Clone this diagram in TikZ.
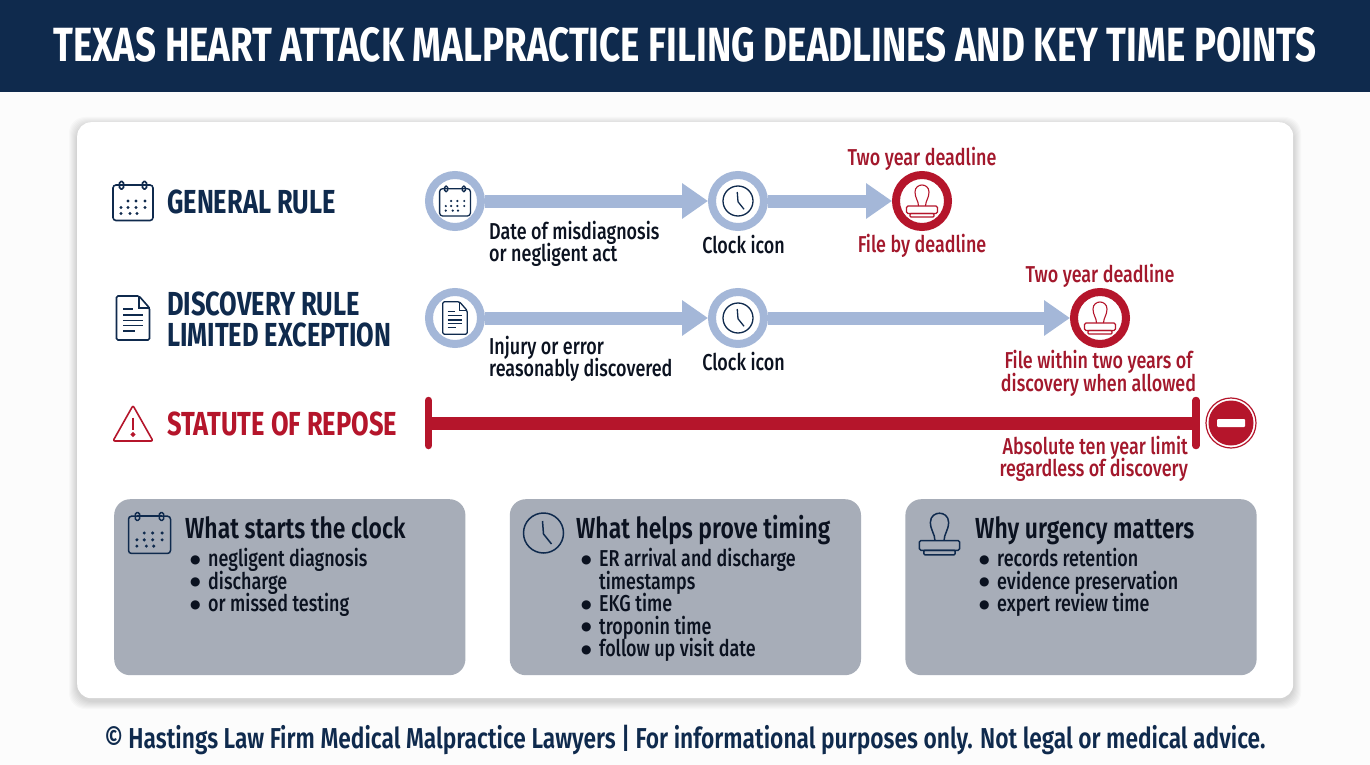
\documentclass[tikz,border=0pt]{standalone}
\usepackage{fontspec}
\usetikzlibrary{positioning,arrows.meta}
\setmainfont{Fira Sans}[FakeStretch=0.78,UprightFont=*-Medium]
\newfontfamily\headfont{Fira Sans}[FakeStretch=0.79,UprightFont=*-SemiBold]
\newfontfamily\rulefont{Fira Sans}[FakeStretch=0.765,UprightFont=*-Bold]
\newfontfamily\bulfont{DejaVu Sans}
\definecolor{navy}{HTML}{0F2A4D}
\definecolor{dkred}{HTML}{B5152B}
\definecolor{txtred}{HTML}{A3182C}
\definecolor{ringblue}{HTML}{A4B7D8}
\definecolor{boxgray}{HTML}{A7ADB8}
\definecolor{ink}{HTML}{0B1220}
\newcommand{\bul}[1]{\makebox[18pt][l]{\smash{\raisebox{3.5pt}{\bulfont\fontsize{12}{14}\selectfont ●}}}#1}
\newcommand{\fsz}[1]{\fontsize{#1}{22.5}\selectfont\lineskiplimit=-10pt}
\tikzset{
    pics/calicon/.style={code={
        \draw[rounded corners=3pt] (-20,-16) rectangle (20,19.5);
        \draw (-11.5,-16) -- (11.5,-16);
        \draw[rounded corners=1.5pt] (-13.5,-19.5) rectangle (-9.5,-12);
        \draw[rounded corners=1.5pt] (9.5,-19.5) rectangle (13.5,-12);
        \foreach \x in {-5,3,12} \fill (\x,0) circle (1.6);
        \foreach \x in {-12,-5,3,12} \fill (\x,6.5) circle (1.6);
        \foreach \x in {-12,-3,4} \fill (\x,12.5) circle (1.6);
    }},
    pics/docicon/.style={code={
        \draw[rounded corners=1.5pt] (-16.5,-22) -- (6,-22) -- (16.5,-10) -- (16.5,22) -- (-16.5,22) -- cycle;
        \draw (6,-22) -- (6,-10) -- (16.5,-10);
        \draw (-10,-9) -- (0,-9);
        \foreach \y in {-3,2.5,7.5} \draw (-10,\y) -- (10,\y);
        \draw (-10,12.7) -- (2,12.7);
    }},
    pics/clockicon/.style={code={
        \draw (0,0) circle (20);
        \draw (-1,-12) -- (0,1) -- (8,11);
    }},
    pics/stampicon/.style={code={
        \draw (-3.5,5) .. controls (-3.5,0) and (-7,-3) .. (-7,-9) .. controls (-7,-14) and (-3,-16) .. (0,-16) .. controls (3,-16) and (7,-14) .. (7,-9) .. controls (7,-3) and (3.5,0) .. (3.5,5);
        \draw[rounded corners=1.5pt] (-15.5,5) rectangle (15.5,12.5);
        \draw[rounded corners=1pt] (-12,12.5) rectangle (12,16);
    }},
    pics/warnicon/.style={code={
        \draw[rounded corners=2pt] (0,-18) -- (20,17.5) -- (-20,17.5) -- cycle;
        \draw[line width=2.2pt] (0,-6) -- (0,6);
        \draw (0,11) circle (1.6);
    }}
}
\begin{document}
\begin{tikzpicture}[
        x=1pt, y=-1pt,
        ring/.style={circle, draw=ringblue, line width=8pt, fill=white, minimum size=52pt, inner sep=0pt},
        redring/.style={ring, draw=dkred},
        flow/.style={draw=ringblue, line width=13pt, -{Triangle[length=26pt,width=34pt]}},
        rule/.style={font=\rulefont\fsz{33.3}, anchor=west, align=left, inner sep=0pt},
        steptext/.style={font=\fsz{23}, text=ink, align=left, inner sep=0pt},
        redtext/.style={font=\fsz{23}, text=txtred, align=center, inner sep=0pt},
        panel/.style={fill=boxgray, rounded corners=16pt, anchor=north west, minimum width=351.2pt, minimum height=176pt, inner sep=0pt},
        paneltitle/.style={font=\headfont\fsz{29}, text=ink, anchor=base west, inner sep=0pt},
        panellist/.style={font=\fsz{23}, text=ink, anchor=north west, align=left, inner sep=0pt}
    ]
        \useasboundingbox (0,0) rectangle (1370,765);
        \fill[white!99!black] (0,0) rectangle (1370,765);

        % Title band
        \node[fill=navy, minimum width=1370pt, minimum height=92pt, inner sep=0pt, anchor=north west] (band) at (0,0) {};
        \node[font=\rulefont\fontsize{48}{50}\selectfont, text=white, inner sep=0pt] (title) at (685,45) {TEXAS HEART ATTACK MALPRACTICE FILING DEADLINES AND KEY TIME POINTS};

        % Card
        \foreach \d in {1,...,8}
            \fill[black, opacity=0.018, rounded corners=16pt] (77-\d,122-\d+3) rectangle (1293+\d,698+\d+3);
        \node[fill=white, rounded corners=14pt, minimum width=1216pt, minimum height=576pt, inner sep=0pt, anchor=north west] (card) at (77,122) {};

        % Row labels
        \node[rule, text=navy] (general) at (167,202) {GENERAL RULE};
        \node[rule, text=navy] (discovery) at (167,319) {DISCOVERY RULE\\[8.5pt]LIMITED EXCEPTION};
        \node[rule, text=dkred] (repose) at (167,424) {STATUTE OF REPOSE};
        \pic[navy, line width=1.6pt] at (133,201) {calicon};
        \pic[navy, line width=1.6pt] at (133,318) {docicon};
        \pic[dkred, line width=1.6pt] at (133,423.5) {warnicon};

        % Timeline nodes
        \node[ring] (start1) at (455,201) {};
        \node[ring, right=223pt of start1] (clock1) {};
        \node[redring, right=124pt of clock1] (stamp1) {};
        \node[ring] (start2) at (455,318) {};
        \node[ring, right=223pt of start2] (clock2) {};
        \node[redring, right=302pt of clock2] (stamp2) {};
        \pic[navy, line width=1.3pt, scale=0.77] at (start1) {calicon};
        \pic[navy, line width=1.3pt, scale=0.74] at (start2) {docicon};
        \pic[navy, line width=1.3pt, scale=0.75] at (clock1) {clockicon};
        \pic[navy, line width=1.3pt, scale=0.75] at (clock2) {clockicon};
        \pic[dkred, line width=1.1pt] at (stamp1) {stampicon};
        \pic[dkred, line width=1.1pt] at (stamp2) {stampicon};

        % Arrows
        \draw[flow] (start1) -- (clock1);
        \draw[flow] (clock1) -- (stamp1);
        \draw[flow] (start2) -- (clock2);
        \draw[flow] (clock2) -- (stamp2);

        % Timeline texts
        \node[steptext, anchor=north west] (date) at (489,220.5) {Date of misdiagnosis\\or negligent act};
        \node[steptext] (clocktext1) at (743.5,245) {Clock icon};
        \node[redtext] (dead1) at (922,158.5) {Two year deadline};
        \node[redtext] (file1) at (922,245.5) {File by deadline};
        \node[steptext, anchor=north west] (injury) at (489,335.5) {Injury or error\\reasonably discovered};
        \node[steptext] (clocktext2) at (743.5,362) {Clock icon};
        \node[redtext] (dead2) at (1100,275.5) {Two year deadline};
        \node[redtext] (file2) at (1098.5,373.5) {File within two years of\\discovery when allowed};

        % Repose bar
        \coordinate (rs) at (428.5,423);
        \coordinate (re) at (1196,423);
        \draw[dkred, line width=13pt] (rs) -- (re);
        \draw[dkred, line width=7.5pt, line cap=round] ([yshift=-22.5pt]rs) -- ([yshift=22.5pt]rs);
        \draw[dkred, line width=7.5pt, line cap=round] ([yshift=-22.5pt]re) -- ([yshift=22.5pt]re);
        \node[circle, draw=dkred, line width=1.2pt, fill=white, minimum size=50pt, inner sep=0pt] (stop) at (1231,423) {};
        \node[circle, fill=dkred, minimum size=45pt, inner sep=0pt] (stopfill) at (stop) {};
        \node[fill=white, minimum width=28pt, minimum height=8pt, inner sep=0pt, rounded corners=1pt] (stopbar) at (stop) {};
        \node[redtext, align=right, anchor=north east] (absolute) at (1188,435.5) {Absolute ten year limit\\regardless of discovery};

        % Panels
        \node[panel] (box1) at (114,499) {};
        \node[panel, right=44pt of box1.north east, anchor=north west] (box2) {};
        \node[panel, right=44pt of box2.north east, anchor=north west] (box3) {};
        \pic[navy, line width=1.5pt, scale=1.05] at (149.5,533) {calicon};
        \pic[navy, line width=1.5pt] at (543.5,533) {clockicon};
        \pic[navy, line width=1.5pt, scale=1.3] at (939.5,534) {stampicon};
        \node[paneltitle] (head1) at (185,538.5) {What starts the clock};
        \node[paneltitle] (head2) at (576,538.5) {What helps prove timing};
        \node[paneltitle] (head3) at (975,538.5) {Why urgency matters};
        \node[panellist] (list1) at (190,548) {\bul{negligent diagnosis}\\\bul{discharge}\\\bul{or missed testing}};
        \node[panellist] (list2) at (581,548) {\bul{ER arrival and discharge}\\\hspace*{18pt}timestamps\\\bul{EKG time}\\\bul{troponin time}\\\bul{follow up visit date}};
        \node[panellist] (list3) at (979,548) {\bul{records retention}\\\bul{evidence preservation}\\\bul{expert review time}};

        % Footer
        \node[font=\headfont\fontsize{28.8}{30}\selectfont, text=navy, inner sep=0pt] (footer) at (685,740) {© Hastings Law Firm Medical Malpractice Lawyers | For informational purposes only. Not legal or medical advice.};
    \end{tikzpicture}
\end{document}
